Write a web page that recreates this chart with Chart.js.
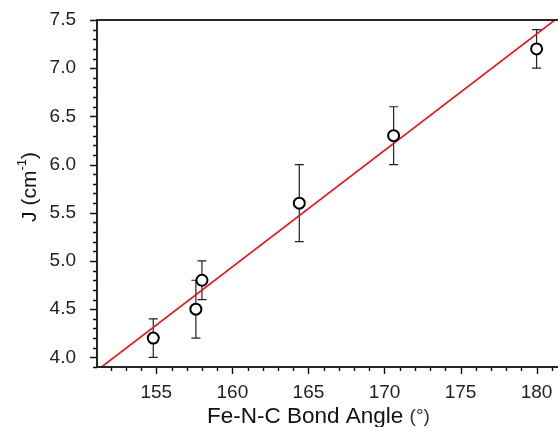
<!DOCTYPE html>
<html><head><meta charset="utf-8">
<script src="https://cdn.jsdelivr.net/npm/chart.js@4/dist/chart.umd.min.js"></script>
<style>html,body{margin:0;padding:0;overflow:hidden;background:#fff;width:558px;height:427px}#wrap{width:575px;height:427px;position:relative}</style>
</head><body><div id="wrap"><canvas id="c"></canvas></div>
<script>
// Data
const angles = [154.8, 157.6, 158.0, 164.4, 170.6, 180.0];
const jValues = [4.2, 4.5, 4.8, 5.6, 6.3, 7.2];
const jErrors = [0.2, 0.3, 0.2, 0.4, 0.3, 0.2];
const fitX = [151.4, 181.2];
const fitY = [3.9, 7.5];
const xTickLabels = [155, 160, 165, 170, 175, 180];
const yTickLabels = [4.0, 4.5, 5.0, 5.5, 6.0, 6.5, 7.0, 7.5];
const xRange = [151.1, 182];
const yRange = [3.9, 7.5];
const xMinorStep = 1;
const yMinorStep = 0.1;

const FONT = "Liberation Sans, Arial, sans-serif";

const decor = {
  id: 'decor',
  beforeDatasetsDraw(chart) {
    const {ctx, scales: {x, y}} = chart;
    ctx.save();
    ctx.strokeStyle = '#222';
    ctx.lineWidth = 1.2;
    angles.forEach((v, i) => {
      const px = x.getPixelForValue(v);
      const top = y.getPixelForValue(jValues[i] + jErrors[i]);
      const bot = y.getPixelForValue(jValues[i] - jErrors[i]);
      ctx.beginPath();
      ctx.moveTo(px, top); ctx.lineTo(px, bot);
      ctx.moveTo(px - 4.5, top); ctx.lineTo(px + 4.5, top);
      ctx.moveTo(px - 4.5, bot); ctx.lineTo(px + 4.5, bot);
      ctx.stroke();
    });
    ctx.restore();
  },
  afterDraw(chart) {
    const {ctx, chartArea: a, scales: {x, y}} = chart;
    ctx.save();
    ctx.strokeStyle = '#111';
    ctx.lineWidth = 1.8;
    ctx.strokeRect(a.left, a.top, a.right - a.left, a.bottom - a.top);
    ctx.lineWidth = 1.4;
    ctx.beginPath();
    for (let v = Math.ceil(xRange[0]); v <= xRange[1]; v += xMinorStep) {
      const px = Math.round(x.getPixelForValue(v)) + 0.5;
      const major = xTickLabels.includes(v);
      ctx.moveTo(px, a.bottom); ctx.lineTo(px, a.bottom + (major ? 7 : 4));
    }
    for (let k = Math.round(yRange[0] / yMinorStep); k <= Math.round(yRange[1] / yMinorStep); k++) {
      const v = k * yMinorStep;
      const py = Math.round(y.getPixelForValue(v)) + 0.5;
      const major = k % 5 === 0;
      ctx.moveTo(a.left, py); ctx.lineTo(a.left - (major ? 7 : 4), py);
    }
    ctx.stroke();

    // x title
    ctx.fillStyle = '#111';
    ctx.textBaseline = 'alphabetic';
    const t1 = 'Fe-N-C Bond Angle ';
    const t2 = '(°)';
    ctx.font = '22.5px ' + FONT;
    const w1 = ctx.measureText(t1).width;
    let sx = 207;
    ctx.textAlign = 'left';
    ctx.fillText(t1, sx, 423);
    ctx.font = '19px ' + FONT;
    ctx.fillStyle = '#333';
    ctx.fillText(t2, sx + w1, 422);

    // y title
    ctx.fillStyle = '#111';
    ctx.textBaseline = 'middle';
    ctx.translate(30, 187);
    ctx.rotate(-Math.PI / 2);
    const p1 = 'J (cm', p2 = '-1', p3 = ')';
    ctx.font = '21px ' + FONT;
    const q1 = ctx.measureText(p1).width;
    const q3 = ctx.measureText(p3).width;
    ctx.font = '13px ' + FONT;
    const q2 = ctx.measureText(p2).width;
    let s = -(q1 + q2 + q3) / 2;
    ctx.font = '21px ' + FONT;
    ctx.fillText(p1, s, 0);
    ctx.font = '13px ' + FONT;
    ctx.fillText(p2, s + q1, -8);
    ctx.font = '21px ' + FONT;
    ctx.fillText(p3, s + q1 + q2, 0);
    ctx.restore();
  }
};

new Chart(document.getElementById('c'), {
  data: {
    datasets: [
      {
        type: 'line',
        data: fitX.map((v, i) => ({x: v, y: fitY[i]})),
        borderColor: '#e3191c',
        borderWidth: 1.6,
        pointRadius: 0,
        fill: false,
        order: 2
      },
      {
        type: 'scatter',
        data: angles.map((v, i) => ({x: v, y: jValues[i]})),
        pointRadius: 5.5,
        pointBorderWidth: 2,
        pointBorderColor: '#000',
        pointBackgroundColor: '#fff',
        order: 1
      }
    ]
  },
  options: {
    responsive: true,
    maintainAspectRatio: false,
    animation: false,
    events: [],
    layout: {padding: {left: 0, top: 20, right: 8, bottom: 0}},
    plugins: {legend: {display: false}, tooltip: {enabled: false}},
    scales: {
      x: {
        type: 'linear', min: xRange[0], max: xRange[1],
        grid: {display: false}, border: {display: false},
        afterBuildTicks: s => { s.ticks = xTickLabels.map(v => ({value: v})); },
        afterFit: s => { s.height = 60; s.paddingLeft = 0; s.paddingRight = 0; },
        ticks: {padding: 6, color: '#222', font: {family: FONT, size: 19}, maxRotation: 0, autoSkip: false}
      },
      y: {
        type: 'linear', min: yRange[0], max: yRange[1],
        grid: {display: false}, border: {display: false},
        afterBuildTicks: s => { s.ticks = yTickLabels.map(v => ({value: v})); },
        afterFit: s => { s.width = 97; s.paddingTop = 0; s.paddingBottom = 0; },
        ticks: {padding: 13, color: '#222', font: {family: FONT, size: 19}, callback: v => v.toFixed(1)}
      }
    }
  },
  plugins: [decor]
});
</script></body></html>
